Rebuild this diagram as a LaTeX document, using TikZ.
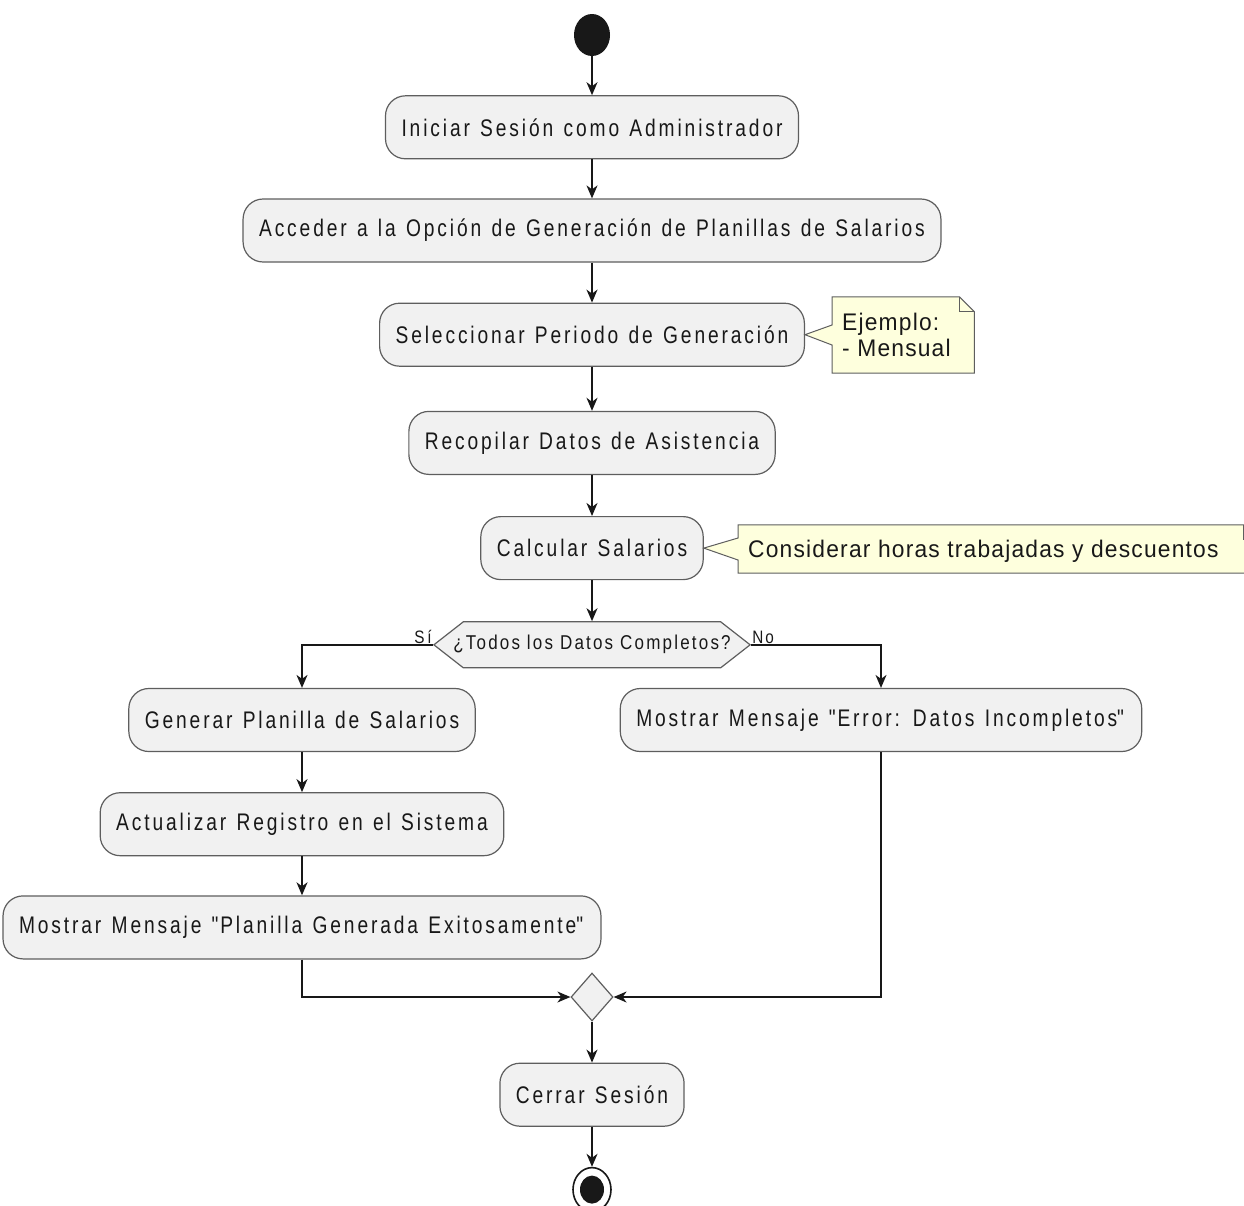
\documentclass[tikz,border=0pt]{standalone}
\usepackage{fontspec}
\setmainfont{Liberation Sans}[FakeStretch=0.8,LetterSpace=12,WordSpace=1.25]
\newfontfamily\decfont{Liberation Sans}[FakeStretch=0.85,LetterSpace=11]
\newfontfamily\notefont{Liberation Sans}[FakeStretch=0.95,LetterSpace=5]
\usetikzlibrary{positioning,calc,shapes.geometric,shapes.symbols,arrows.meta}
\definecolor{actfill}{HTML}{F1F1F1}
\definecolor{actline}{HTML}{5E5E5E}
\definecolor{notefill}{HTML}{FEFFDD}
\definecolor{ink}{HTML}{181818}

\begin{document}
\begin{tikzpicture}[
x=1pt, y=-1pt,
actnode/.style={rectangle, rounded corners=20pt, draw=actline, fill=actfill, line width=1.2pt,
  minimum height=63pt, inner xsep=16pt, text=ink, font=\fontsize{24}{28}\selectfont},
decnode/.style={signal, signal to=west and east, signal pointer angle=76, draw=actline, fill=actfill,
  line width=1.2pt, minimum width=300pt, minimum height=46pt, inner xsep=-10pt, text=ink,
  font=\decfont\fontsize{20}{24}\selectfont},
mergenode/.style={diamond, draw=actline, fill=actfill, line width=1.2pt, minimum width=42pt,
  minimum height=48pt, inner sep=0pt},
startnode/.style={ellipse, fill=ink, minimum width=36pt, minimum height=42pt, inner sep=0pt},
notebox/.style={rectangle, inner xsep=10pt, align=left, anchor=west, text=ink,
  font=\notefont\fontsize{24}{26}\selectfont},
notepath/.style={draw=actline, fill=notefill, line width=1pt},
guard/.style={text=ink, inner sep=1pt, font=\decfont\fontsize{18}{20}\selectfont},
flow/.style={draw=ink, line width=1.6pt, -{Stealth[length=13pt,width=11pt,inset=4pt]}},
]
\useasboundingbox (0,0) rectangle (1244,1205);

%Nodes
\node[startnode]  (start)                       at (592,35) {};
\node[actnode]    (login)  [below=39pt of start] {Iniciar Sesión como Administrador};
\node[actnode]    (access) [below=39pt of login] {Acceder a la Opción de Generación de Planillas de Salarios};
\node[actnode]    (period) [below=40pt of access] {Seleccionar Periodo de Generación};
\node[actnode]    (collect)[below=44pt of period] {Recopilar Datos de Asistencia};
\node[actnode]    (calc)   [below=41pt of collect] {Calcular Salarios};
\node[decnode]    (check)  [below=41pt of calc] {¿Todos los Datos Completos?};
\node[actnode]    (gen)                         at (302,720) {Generar Planilla de Salarios};
\node[actnode]    (update) [below=40pt of gen] {Actualizar Registro en el Sistema};
\node[actnode]    (okmsg)  [below=39pt of update] {Mostrar Mensaje \textquotedbl Planilla Generada Exitosamente\textquotedbl};
\node[actnode]    (errmsg)                      at (881,720) {Mostrar Mensaje \textquotedbl Error: Datos Incompletos\textquotedbl};
\node[mergenode]  (merge)                       at (592,997) {};
\node[actnode]    (logout) [below=41pt of merge] {Cerrar Sesión};
\node[ellipse, draw=ink, fill=white, line width=1.6pt, minimum width=38pt, minimum height=44pt]
                  (stop)   [below=40pt of logout] {};
\node[startnode, minimum width=24pt, minimum height=28pt] (stopdot) at (stop) {};

%Notes
\node[notebox, minimum height=76pt, minimum width=142pt] (note1) at (832,335) {};
\path[notepath] (note1.north west) -- ($(note1.north east)+(-15,0)$) -- ($(note1.north east)+(0,15)$)
  -- (note1.south east) -- (note1.south west) -- ($(note1.west)+(0,10)$) -- (period.east)
  -- ($(note1.west)+(0,-10)$) -- cycle;
\draw[actline, line width=1pt] ($(note1.north east)+(-15,0)$) |- ($(note1.north east)+(0,15)$);
\node[notebox] at (note1.west) {Ejemplo:\\- Mensual};

\node[notebox, minimum height=48pt, minimum width=520pt] (note2) at (738,549) {};
\path[notepath] (note2.north west) -- ($(note2.north east)+(-15,0)$) -- ($(note2.north east)+(0,15)$)
  -- (note2.south east) -- (note2.south west) -- ($(note2.west)+(0,11)$) -- (calc.east)
  -- ($(note2.west)+(0,-11)$) -- cycle;
\draw[actline, line width=1pt] ($(note2.north east)+(-15,0)$) |- ($(note2.north east)+(0,15)$);
\node[notebox] at ($(note2.west)+(0,2)$) {Considerar horas trabajadas y descuentos};

%Lines
\draw[flow] (start) -- (login);
\draw[flow] (login) -- (access);
\draw[flow] (access) -- (period);
\draw[flow] (period) -- (collect);
\draw[flow] (collect) -- (calc);
\draw[flow] (calc) -- (check);
\draw[flow] (check.west) -| (gen.north);
\draw[flow] (check.east) -| (errmsg.north);
\node[guard, anchor=south east] (yes) at (check.west) {S\,í};
\node[guard, anchor=south west] (no)  at (check.east) {No};
\draw[flow] (gen) -- (update);
\draw[flow] (update) -- (okmsg);
\draw[flow] (okmsg.south) |- (merge.west);
\draw[flow] (errmsg.south) |- (merge.east);
\draw[flow] (merge) -- (logout);
\draw[flow] (logout) -- (stop);
\end{tikzpicture}
\end{document}
